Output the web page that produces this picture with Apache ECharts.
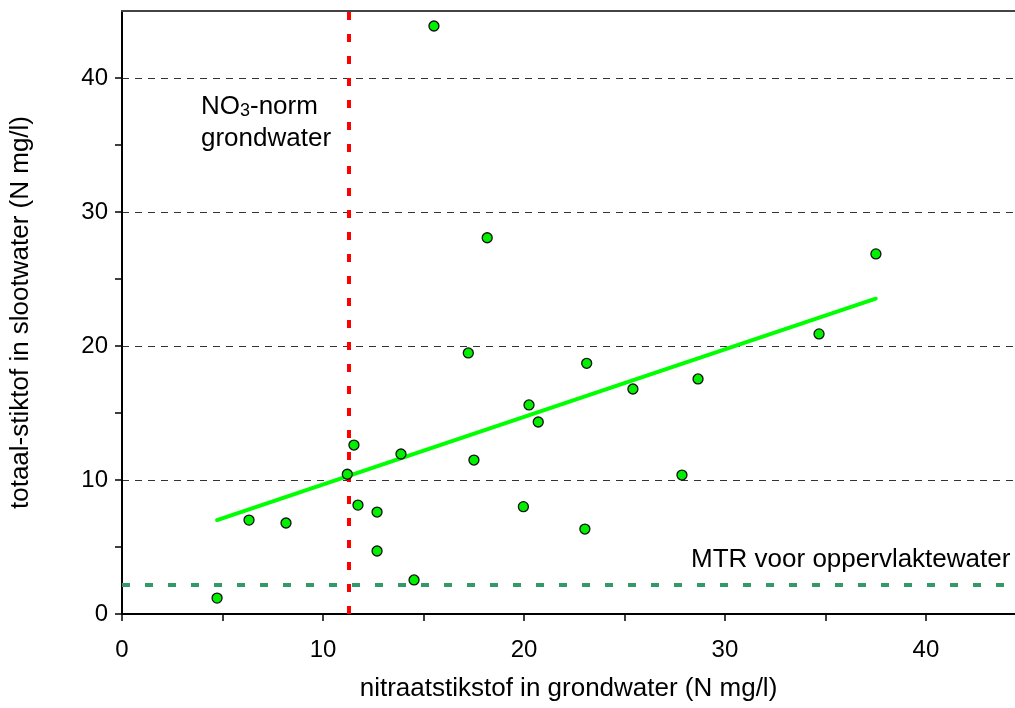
<!DOCTYPE html>
<html>
<head>
<meta charset="utf-8">
<script src="https://cdn.jsdelivr.net/npm/echarts@6/dist/echarts.min.js"></script>
<style>
html,body{margin:0;padding:0;background:#fff;}
#chart{width:1015px;height:708px;}
</style>
</head>
<body>
<div id="chart"></div>
<script>
// Data
const xValues = [4.73, 6.32, 8.16, 11.21, 11.54, 11.74, 12.69, 12.69, 13.88, 14.53, 15.52, 17.23, 17.51, 18.17, 19.97, 20.25, 20.71, 23.03, 23.12, 25.42, 27.86, 28.66, 34.68, 37.51];
const yValues = [1.19, 7.01, 6.79, 10.43, 12.61, 8.13, 7.61, 4.70, 11.94, 2.54, 43.88, 19.48, 11.49, 28.08, 8.01, 15.60, 14.33, 6.34, 18.71, 16.79, 10.37, 17.54, 20.90, 26.87];
const trendX = [4.73, 37.5];
const trendY = [7.01, 23.53];
const no3Norm = 11.3;
const mtrValue = 2.2;
const xTickLabels = [0, 10, 20, 30, 40];
const yTickLabels = [0, 10, 20, 30, 40];
const xTitle = 'nitraatstikstof in grondwater (N mg/l)';
const yTitle = 'totaal-stiktof in slootwater (N mg/l)';
const xMax = 44.43, yMax = 45;

const FONT = "'Liberation Sans', Arial, sans-serif";
const points = xValues.map((x, i) => [x, yValues[i]]);
const trend = trendX.map((x, i) => [x, trendY[i]]);

const chart = echarts.init(document.getElementById('chart'), null, {renderer: 'canvas'});
const labelFmt = list => v => (list.indexOf(Math.round(v * 1000) / 1000) >= 0 ? String(v) : '');

chart.setOption({
  animation: false,
  backgroundColor: '#ffffff',
  grid: {left: 122, top: 11, right: 0, bottom: 94, outerBoundsMode: 'none', containLabel: false},
  xAxis: [{
    type: 'value', min: 0, max: xMax, interval: 5, position: 'bottom',
    name: xTitle, nameLocation: 'middle', nameGap: 62,
    nameTextStyle: {fontFamily: FONT, fontSize: 26, color: '#000'},
    axisLine: {show: true, onZero: false, lineStyle: {color: '#000', width: 2}},
    axisTick: {show: true, inside: false, length: 7, lineStyle: {color: '#000', width: 1.5}},
    axisLabel: {show: true, margin: 24, fontFamily: FONT, fontSize: 24, color: '#000', formatter: labelFmt(xTickLabels), showMaxLabel: false},
    splitLine: {show: false}
  }, {
    type: 'value', min: 0, max: xMax, position: 'top',
    axisLine: {show: true, onZero: false, lineStyle: {color: '#444', width: 2}},
    axisTick: {show: false}, axisLabel: {show: false}, splitLine: {show: false}
  }],
  yAxis: [{
    type: 'value', min: 0, max: yMax, interval: 5, position: 'left',
    name: yTitle, nameLocation: 'middle', nameGap: 88, nameRotate: 90,
    nameTextStyle: {fontFamily: FONT, fontSize: 26, color: '#000'},
    axisLine: {show: true, onZero: false, lineStyle: {color: '#000', width: 2}},
    axisTick: {show: true, inside: false, length: 7, lineStyle: {color: '#000', width: 1.5}},
    axisLabel: {show: true, margin: 14, fontFamily: FONT, fontSize: 24, color: '#000', formatter: labelFmt(yTickLabels), showMaxLabel: false},
    splitLine: {show: false}
  }, {
    type: 'value', min: 0, max: yMax, interval: 10, position: 'right',
    axisLine: {show: false}, axisTick: {show: false}, axisLabel: {show: false},
    splitLine: {show: true, showMinLine: false, showMaxLine: false, lineStyle: {color: '#333', width: 1, type: [7, 6]}}
  }],
  series: [{
    type: 'line', data: trend, xAxisIndex: 0, yAxisIndex: 0,
    showSymbol: false, symbol: 'none', silent: true,
    lineStyle: {color: '#00ff00', width: 4, cap: 'round'}, z: 3,
    markLine: {
      silent: true, symbol: 'none', animation: false, label: {show: false},
      data: [
        {xAxis: no3Norm, lineStyle: {color: '#ff0000', width: 4, type: [8, 14]}},
        {yAxis: mtrValue, lineStyle: {color: '#339966', width: 4, type: [8, 15]}}
      ]
    }
  }, {
    type: 'scatter', data: points, xAxisIndex: 0, yAxisIndex: 0,
    symbol: 'circle', symbolSize: 10,
    itemStyle: {color: '#00f000', borderColor: '#111', borderWidth: 1.3, opacity: 1}, z: 5
  }]
});

// annotations placed in data coordinates
const notes = [
  {pos: [3.93, 38.0], lines: ['{n|NO}{s|3}{n|-norm}'], align: 'left'},
  {pos: [3.93, 35.6], lines: ['{n|grondwater}'], align: 'left'},
  {pos: [44.2, 4.2], lines: ['{n|MTR voor oppervlaktewater}'], align: 'right'}
];
const graphics = notes.map(n => {
  const p = chart.convertToPixel({xAxisIndex: 0, yAxisIndex: 0}, n.pos);
  return {
    type: 'text', x: p[0], y: p[1], z: 10,
    style: {
      text: n.lines.join('\n'), align: n.align, verticalAlign: 'middle',
      fill: '#000', font: '26px ' + FONT,
      rich: {
        n: {fontFamily: FONT, fontSize: 26, color: '#000', lineHeight: 30, verticalAlign: 'bottom'},
        s: {fontFamily: FONT, fontSize: 18, color: '#000', lineHeight: 24, verticalAlign: 'bottom', padding: [0, 0, 0, 0]}
      }
    }
  };
});
chart.setOption({graphic: graphics});
</script>
</body>
</html>
